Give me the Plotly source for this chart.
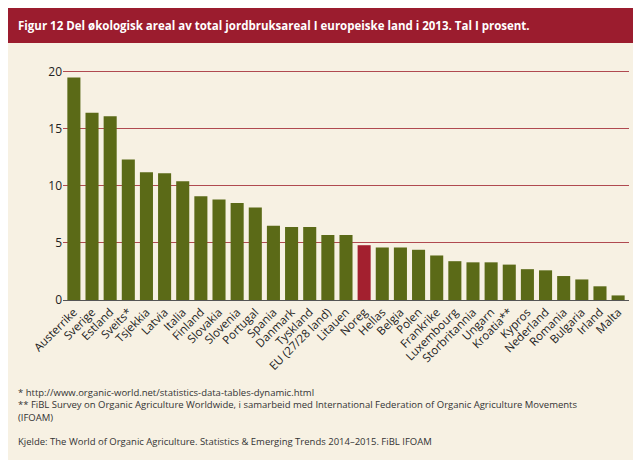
import plotly.graph_objects as go

countries = ["Austerrike", "Sverige", "Estland", "Sveits*", "Tsjekkia", "Latvia", "Italia",
             "Finland", "Slovakia", "Slovenia", "Portugal", "Spania", "Danmark", "Tyskland",
             "EU (27/28 land)", "Litauen", "Noreg", "Hellas", "Belgia", "Polen", "Frankrike",
             "Luxembourg", "Storbritannia", "Ungarn", "Kroatia**", "Kypros", "Nederland",
             "Romania", "Bulgaria", "Irland", "Malta"]
share = [19.5, 16.4, 16.1, 12.3, 11.2, 11.1, 10.4, 9.1, 8.8, 8.5, 8.1, 6.5, 6.4, 6.4,
         5.7, 5.7, 4.8, 4.6, 4.6, 4.4, 3.9, 3.4, 3.3, 3.3, 3.1, 2.7, 2.6, 2.1, 1.8, 1.2, 0.4]
highlight = "Noreg"

colors = ["#a3202f" if c == highlight else "#5b6a17" for c in countries]

fig = go.Figure(go.Bar(x=countries, y=share, marker_color=colors, marker_line_width=0, width=0.72))

fig.update_layout(
    width=641, height=460,
    paper_bgcolor="#f7f1e3", plot_bgcolor="#f7f1e3",
    margin=dict(l=55, r=20, t=58, b=168),
    font=dict(family="Open Sans", size=12, color="#222"),
    showlegend=False,
    shapes=[dict(type="rect", xref="paper", yref="paper", x0=-0.1, x1=1.05, y0=1.098, y1=1.26,
                 fillcolor="#9b1c2e", line_width=0, layer="below")],
    annotations=[
        dict(text="<b>Figur 12 Del økologisk areal av total jordbruksareal I europeiske land i 2013. Tal I prosent.</b>",
             xref="paper", yref="paper", x=-0.083, y=1.175, xanchor="left", yanchor="middle",
             showarrow=False, font=dict(color="white", size=11.5)),
        dict(text="* http://www.organic-world.net/statistics-data-tables-dynamic.html<br>"
                  "** FiBL Survey on Organic Agriculture Worldwide, i samarbeid med International Federation of Organic Agriculture Movements<br>"
                  "(IFOAM)<br><br>Kjelde: The World of Organic Agriculture. Statistics & Emerging Trends 2014–2015. FiBL IFOAM",
             xref="paper", yref="paper", x=-0.083, y=-0.36, xanchor="left", yanchor="top",
             align="left", showarrow=False, font=dict(size=9.5, color="#333")),
    ],
)
fig.update_xaxes(tickangle=-45, tickfont=dict(size=11.5), showline=True, linecolor="#555",
                 range=[-0.6, len(countries) - 0.4])
fig.update_yaxes(range=[0, 20.5], tickvals=[0, 5, 10, 15, 20], gridcolor="#b04a50",
                 gridwidth=1, zeroline=False, tickfont=dict(size=12), ticks="")

fig.write_html("out.html")
